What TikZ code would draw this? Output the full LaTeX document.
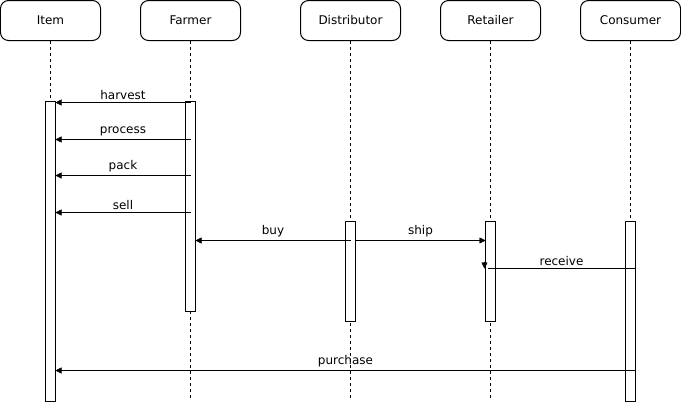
\documentclass[tikz,border=0pt]{standalone}
\usepackage{fontspec}
\setmainfont{DejaVu Sans}
\usetikzlibrary{arrows.meta, backgrounds, calc}

\begin{document}
\begin{tikzpicture}[x=1bp, y=-1bp, line width=1bp]

    % Font for all labels
    \fontsize{12bp}{14bp}\selectfont

    % Fix the picture size
    \useasboundingbox (0, 0) rectangle (681, 401);

    % Lifeline heads, lifelines and activations
    \tikzset{hd/.style={draw, rounded corners = 8bp, minimum width = 100bp, minimum height = 40bp, inner sep = 0pt, fill = white}}
    \tikzset{life/.style={draw, dash pattern = on 3bp off 3bp}}
    \tikzset{act/.style={draw, fill = white, minimum width = 10bp, inner sep = 0pt, anchor = north}}

    % Messages
    \tikzset{msg/.style={draw, -{Triangle[length = 6bp, width = 6bp]}}}
    \tikzset{lbl/.style={inner sep = 0pt, anchor = base}}

    \begin{scope}[shift={(0.5, 0.5)}]

    % Heads
    \node (item) [hd] at (50, 20) {Item};
    \node (farmer) [hd] at (190, 20) {Farmer};
    \node (dist) [hd] at (350, 20) {Distributor};
    \node (ret) [hd] at (490, 20) {Retailer};
    \node (cons) [hd] at (630, 20) {Consumer};

    % Lifeline ends
    \coordinate (eItem) at (50, 400);
    \coordinate (eFarmer) at (190, 400);
    \coordinate (eDist) at (350, 400);
    \coordinate (eRet) at (490, 400);
    \coordinate (eCons) at (630, 400);

    % Activations
    \node (aItem) [act, minimum height = 300bp] at (50, 100) {};
    \node (aFarmer) [act, minimum height = 210bp] at (190, 100) {};
    \node (aDist) [act, minimum height = 100bp] at (350, 220) {};
    \node (aRet) [act, minimum height = 100bp] at (490, 220) {};
    \node (aCons) [act, minimum height = 180bp] at (630, 220) {};

    % Message ends
    \coordinate (hvF) at (190, 102);
    \coordinate (hvI) at (55, 102);
    \coordinate (prF) at (190, 139);
    \coordinate (prI) at (55, 139);
    \coordinate (pkF) at (190, 175);
    \coordinate (pkI) at (55, 175);
    \coordinate (slF) at (190, 212);
    \coordinate (slI) at (55, 212);
    \coordinate (byD) at (350, 240);
    \coordinate (byF) at (195, 240);
    \coordinate (shD) at (355, 240);
    \coordinate (shR) at (485, 240);
    \coordinate (rcC) at (635, 268);
    \coordinate (rcK) at (487, 268);
    \coordinate (rcT) at (484, 261);
    \coordinate (rcR) at (484, 268);
    \coordinate (puC) at (635, 370);
    \coordinate (puI) at (55, 370);

    % Lifelines behind the activations
    \begin{pgfonlayer}{background}
    	\path[life] (item) -- (eItem);
    	\path[life] (farmer) -- (eFarmer);
    	\path[life] (dist) -- (eDist);
    	\path[life] (ret) -- (eRet);
    	\path[life] (cons) -- (eCons);
    \end{pgfonlayer}

    % Messages
    \path[msg] (hvF) -- node[lbl, above = 3bp] {harvest} (hvI);
    \path[msg] (prF) -- node[lbl, above = 3bp] {process} (prI);
    \path[msg] (pkF) -- node[lbl, above = 3bp] {pack} (pkI);
    \path[msg] (slF) -- node[lbl, above = 3bp] {sell} (slI);
    \path[msg] (byD) -- node[lbl, above = 3bp] {buy} (byF);
    \path[msg] (shD) -- node[lbl, above = 3bp] {ship} (shR);
    \path[draw] (rcC) -- node[lbl, above = 3bp] {receive} (rcK);
    	\path[msg] (rcT) -- (rcR);
    \path[msg] (puC) -- node[lbl, above = 3bp] {purchase} (puI);

    \end{scope}

\end{tikzpicture}
\end{document}
